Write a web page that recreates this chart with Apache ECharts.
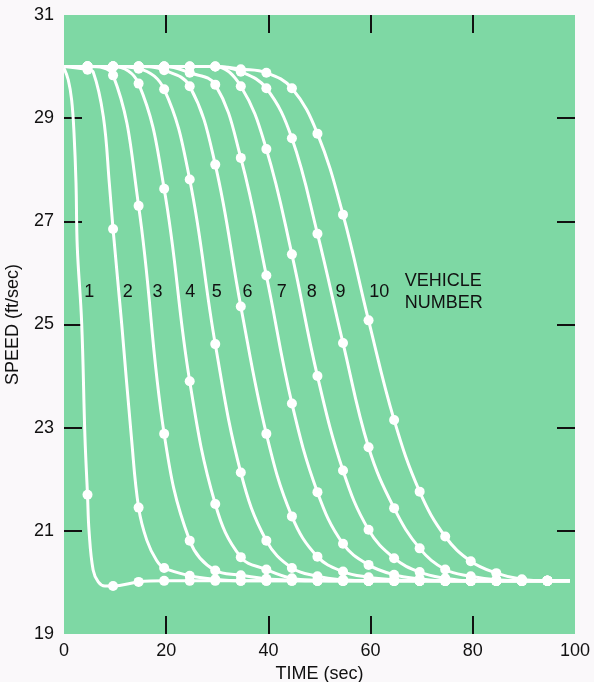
<!DOCTYPE html>
<html>
<head>
<meta charset="utf-8">
<script src="https://cdn.jsdelivr.net/npm/echarts@6/dist/echarts.min.js"></script>
<style>
  html, body { margin: 0; padding: 0; background: #faf8fa; }
  #chart { width: 594px; height: 682px; }
</style>
</head>
<body>
<div id="chart"></div>
<script>
  // sample instants (sec) where the dots sit
  const sampleTimes = [4.6, 9.6, 14.6, 19.6, 24.6, 29.6, 34.6, 39.6, 44.6, 49.6, 54.6, 59.6, 64.6, 69.6, 74.6, 79.6, 84.6, 89.6, 94.6];

  // speed (ft/sec) of each vehicle at the sample instants
  const speed1 = [21.7, 19.93, 20.01, 20.03, 20.03, 20.03, 20.03, 20.03, 20.03, 20.03, 20.03, 20.03, 20.03, 20.03, 20.03, 20.03, 20.03, 20.03, 20.03];
  const speed2 = [29.94, 26.85, 21.45, 20.28, 20.13, 20.06, 20.03, 20.03, 20.03, 20.03, 20.03, 20.03, 20.03, 20.03, 20.03, 20.03, 20.03, 20.03, 20.03];
  const speed3 = [30.0, 29.83, 27.3, 22.88, 20.81, 20.23, 20.14, 20.07, 20.04, 20.03, 20.03, 20.03, 20.03, 20.03, 20.03, 20.03, 20.03, 20.03, 20.03];
  const speed4 = [30.0, 30.0, 29.67, 27.63, 23.9, 21.52, 20.49, 20.25, 20.08, 20.04, 20.03, 20.03, 20.03, 20.03, 20.03, 20.03, 20.03, 20.03, 20.03];
  const speed5 = [30.0, 30.0, 29.96, 29.56, 27.81, 24.62, 22.13, 20.81, 20.28, 20.12, 20.05, 20.03, 20.03, 20.03, 20.03, 20.03, 20.03, 20.03, 20.03];
  const speed6 = [30.0, 30.0, 30.0, 29.93, 29.62, 28.1, 25.35, 22.88, 21.28, 20.5, 20.21, 20.1, 20.05, 20.03, 20.03, 20.03, 20.03, 20.03, 20.03];
  const speed7 = [30.0, 30.0, 30.0, 30.0, 29.88, 29.65, 28.23, 25.95, 23.47, 21.75, 20.75, 20.34, 20.15, 20.07, 20.03, 20.03, 20.03, 20.03, 20.03];
  const speed8 = [30.0, 30.0, 30.0, 30.0, 30.0, 30.0, 29.62, 28.4, 26.36, 24.0, 22.17, 21.02, 20.47, 20.2, 20.08, 20.03, 20.03, 20.03, 20.03];
  const speed9 = [30.0, 30.0, 30.0, 30.0, 30.0, 30.0, 29.9, 29.58, 28.61, 26.76, 24.64, 22.62, 21.44, 20.66, 20.25, 20.12, 20.05, 20.03, 20.03];
  const speed10 = [30.0, 30.0, 30.0, 30.0, 30.0, 30.0, 29.95, 29.88, 29.58, 28.7, 27.13, 25.08, 23.15, 21.76, 20.89, 20.41, 20.18, 20.06, 20.03];

  // start / end of each trace and extra points read along the sharp bends
  const startSpeed = [29.97, 30, 30, 30, 30, 30, 30, 30, 30, 30];
  const endTime = 99;
  const endSpeed = 20.03;
  const bend1 = [[0.84, 29.74], [1.5, 29.35], [1.96, 28.71], [2.35, 27.74], [2.6, 26.5], [3.46, 25.03], [4.1, 22.82], [4.9, 21.0], [5.7, 20.24], [6.7, 20.01], [8.0, 19.93]];
  const bend2 = [[5.7, 29.9], [7.7, 29.03], [8.9, 27.7], [11.3, 25.0], [13.2, 22.8], [16.2, 20.82], [18.1, 20.43]];

  // vehicle number labels
  const labelNames = ['1', '2', '3', '4', '5', '6', '7', '8', '9', '10'];
  const labelTimes = [4.95, 12.5, 18.3, 24.7, 29.9, 35.9, 42.6, 48.5, 54.1, 61.7];
  const labelSpeed = 25.62;

  const speeds = [speed1, speed2, speed3, speed4, speed5, speed6, speed7, speed8, speed9, speed10];
  const bends = [bend1, bend2, [], [], [], [], [], [], [], []];

  const font = '"Liberation Sans", Arial, sans-serif';
  const ink = '#111111';

  const series = [];
  const dots = [];
  speeds.forEach(function (sp, i) {
    let pts = [[0, startSpeed[i]]];
    sp.forEach(function (v, k) {
      pts.push([sampleTimes[k], v]);
      dots.push([sampleTimes[k], v]);
    });
    pts = pts.concat(bends[i]);
    pts.sort(function (a, b) { return a[0] - b[0]; });
    pts.push([endTime, endSpeed]);
    series.push({
      name: 'vehicle ' + (i + 1),
      type: 'line',
      data: pts,
      showSymbol: false,
      smooth: 0.4,
      lineStyle: { color: '#ffffff', width: 3 },
      silent: true,
      z: 2
    });
  });

  series.push({
    type: 'scatter',
    data: dots,
    symbolSize: 10,
    itemStyle: { color: '#ffffff', opacity: 1 },
    silent: true,
    z: 3
  });

  series.push({
    type: 'scatter',
    symbolSize: 0,
    silent: true,
    z: 4,
    itemStyle: { opacity: 1 },
    label: {
      show: true,
      position: 'inside',
      formatter: function (p) { return p.name; },
      color: ink,
      fontFamily: font,
      fontSize: 18
    },
    data: labelNames.map(function (n, i) {
      return { name: n, value: [labelTimes[i], labelSpeed] };
    }).concat([{
      name: 'VEHICLE\nNUMBER',
      value: [66.7, labelSpeed],
      label: { align: 'left', lineHeight: 22, fontSize: 18 }
    }])
  });

  const tickStyle = { show: true, inside: true, length: 18, lineStyle: { color: ink, width: 2 } };
  const hiddenLine = { show: false, onZero: false };

  const chart = echarts.init(document.getElementById('chart'));
  chart.setOption({
    animation: false,
    backgroundColor: '#faf8fa',
    grid: {
      left: 64, width: 511, top: 15, height: 619,
      outerBoundsMode: 'none',
      containLabel: false,
      show: true, backgroundColor: '#7ed8a4', borderWidth: 0
    },
    xAxis: [{
      type: 'value', min: 0, max: 100, interval: 20, position: 'bottom',
      axisLine: hiddenLine,
      axisTick: Object.assign({ customValues: [20, 40, 60, 80] }, tickStyle),
      axisLabel: { color: ink, fontFamily: font, fontSize: 18, margin: 8 },
      splitLine: { show: false },
      name: 'TIME (sec)', nameLocation: 'middle', nameGap: 25,
      nameTextStyle: { color: ink, fontFamily: font, fontSize: 18 }
    }, {
      type: 'value', min: 0, max: 100, interval: 20, position: 'top',
      axisLine: hiddenLine,
      axisTick: Object.assign({ customValues: [20, 40, 60, 80] }, tickStyle),
      axisLabel: { show: false },
      splitLine: { show: false }
    }],
    yAxis: [{
      type: 'value', min: 19, max: 31, interval: 2, position: 'left',
      axisLine: hiddenLine,
      axisTick: Object.assign({ customValues: [21, 23, 25, 27, 29] }, tickStyle),
      axisLabel: { color: ink, fontFamily: font, fontSize: 18, margin: 10 },
      splitLine: { show: false },
      name: 'SPEED (ft/sec)', nameLocation: 'middle', nameRotate: 90, nameGap: 42,
      nameTextStyle: { color: ink, fontFamily: font, fontSize: 18 }
    }, {
      type: 'value', min: 19, max: 31, interval: 2, position: 'right',
      axisLine: hiddenLine,
      axisTick: Object.assign({ customValues: [21, 23, 25, 27, 29] }, tickStyle),
      axisLabel: { show: false },
      splitLine: { show: false }
    }],
    series: series
  });
</script>
</body>
</html>
